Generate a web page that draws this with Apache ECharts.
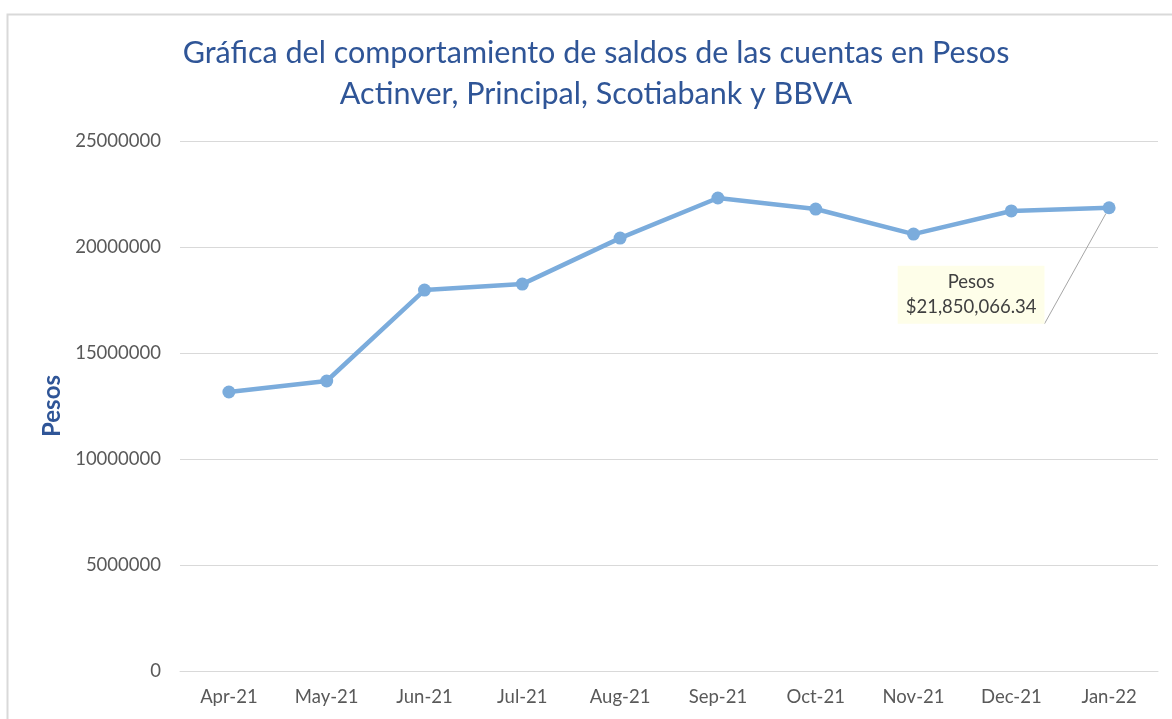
<!DOCTYPE html>
<html><head><meta charset="utf-8">
<script src="https://cdn.jsdelivr.net/npm/echarts@6/dist/echarts.min.js"></script>
<style>html,body{margin:0;padding:0;background:#fff}#c{width:1172px;height:719px}</style>
</head><body><div id="c"></div>
<script>
const categories = ['Apr-21','May-21','Jun-21','Jul-21','Aug-21','Sep-21','Oct-21','Nov-21','Dec-21','Jan-22'];
const pesos = [13160000, 13680000, 17970000, 18250000, 20420000, 22310000, 21790000, 20610000, 21700000, 21850066.34];
const yTicks = [0, 5000000, 10000000, 15000000, 20000000, 25000000];
const titleLines = ['Gráfica del comportamiento de saldos de las cuentas en Pesos', 'Actinver, Principal, Scotiabank y BBVA'];
const seriesName = 'Pesos';

const FONT = 'Lato';
const chart = echarts.init(document.getElementById('c'), null, {renderer:'canvas'});
const last = pesos.length - 1;
chart.setOption({
  backgroundColor: '#fff',
  animation: false,
  graphic: [{type:'rect', shape:{x:7.5, y:14.5, width:1200, height:720}, style:{fill:'none', stroke:'#d9d9d9', lineWidth:2}, silent:true}],
  title: {
    text: titleLines.join('\n'), left: 591, top: 28, textAlign: 'center',
    textStyle: {fontFamily: FONT, fontSize: 30.5, fontWeight: 'normal', color:'#2f5597', lineHeight: 41}
  },
  grid: {left: 180, right: 14, top: 141, bottom: 48},
  xAxis: {
    type: 'category', data: categories, boundaryGap: true,
    axisLine: {show: true, lineStyle: {color:'#d9d9d9', width:1}},
    axisTick: {show: false},
    axisLabel: {color:'#595959', fontFamily: FONT, fontSize: 18.5, margin: 17}
  },
  yAxis: {
    type: 'value', min: yTicks[0], max: yTicks[yTicks.length-1], interval: 5000000,
    name: seriesName, nameLocation: 'middle', nameGap: 116, nameRotate: 90,
    nameTextStyle: {color:'#2f5597', fontFamily: FONT, fontSize: 24, fontWeight:'bold'},
    axisLine: {show:false}, axisTick: {show:false},
    axisLabel: {color:'#595959', fontFamily: FONT, fontSize: 18.5, margin: 19, formatter: v => String(v)},
    splitLine: {lineStyle: {color:'#d9d9d9', width:1}}
  },
  series: [{
    name: seriesName, type: 'line', data: pesos.map((v,i)=> i===last ? {
      value: v,
      label: {
        show: true,
        formatter: p => seriesName + '\n$' + p.value.toLocaleString('en-US',{minimumFractionDigits:2, maximumFractionDigits:2}),
        position: 'inside', offset: [-138, 87],
        backgroundColor: '#fefee9', padding: [4, 8, 4, 8],
        color:'#404040', fontFamily: FONT, fontSize: 18.5, lineHeight: 25, align:'center'
      },
      labelLine: {show: true, lineStyle: {color:'#a6a6a6', width:1}}
    } : v),
    symbol: 'circle', symbolSize: 13,
    lineStyle: {color:'#7bacdc', width: 4.5},
    itemStyle: {color:'#7bacdc'},
    labelLine: {show: false}
  }]
});
</script></body></html>
